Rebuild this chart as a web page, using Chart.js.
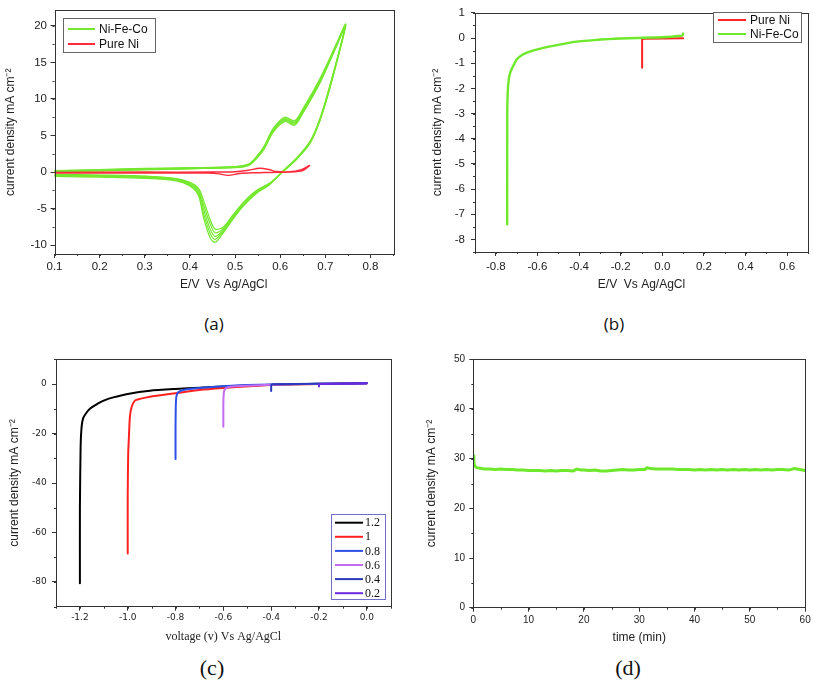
<!DOCTYPE html>
<html>
<head>
<meta charset="utf-8">
<script src="https://cdn.jsdelivr.net/npm/chart.js@4.4.1/dist/chart.umd.min.js"></script>
<style>
  body { margin: 0; background: #fff; width: 813px; height: 683px; position: relative; overflow: hidden; }
  canvas { position: absolute; }
  .tag { position: absolute; transform: translate(-50%, -50%); line-height: 1; color: #111; white-space: nowrap; }
</style>
</head>
<body>
<canvas id="chartA" width="406" height="300" style="left:0;top:0"></canvas>
<canvas id="chartB" width="407" height="300" style="left:406px;top:0"></canvas>
<canvas id="chartC" width="406" height="310" style="left:0;top:340px"></canvas>
<canvas id="chartD" width="407" height="310" style="left:406px;top:340px"></canvas>
<div class="tag" style="left:214px;top:323px;font:17px 'Open Sans'">(a)</div>
<div class="tag" style="left:614px;top:323px;font:17px 'Open Sans'">(b)</div>
<div class="tag" style="left:212px;top:668px;font:22px 'Liberation Serif'">(c)</div>
<div class="tag" style="left:628px;top:668px;font:22px 'Liberation Serif'">(d)</div>
<script>
// (a) cyclic voltammetry, Ni-Fe-Co (5 cycles) and pure Ni
const cvPotential = [0.10, 0.20, 0.30, 0.40, 0.50, 0.53, 0.55, 0.565, 0.585, 0.61, 0.632, 0.65, 0.69, 0.725, 0.745,
  0.71, 0.688, 0.666, 0.636, 0.607, 0.577, 0.548, 0.519, 0.496, 0.474, 0.456, 0.445, 0.43, 0.419, 0.40, 0.37, 0.30, 0.20, 0.10]
const cvCycle1 = [0.2, 0.35, 0.5, 0.6, 0.75, 1.1, 2.3, 3.6, 6.0, 7.5, 7.0, 8.6, 13.0, 17.6, 20.2,
  11.8, 7.3, 4.2, 1.9, 0.2, -1.7, -2.9, -4.6, -6.4, -8.3, -9.6, -9.0, -6.2, -3.2, -1.9, -1.2, -0.85, -0.7, -0.6]
const cvCycle2 = [0.15, 0.3, 0.45, 0.55, 0.7, 1.05, 2.2, 3.5, 5.9, 7.35, 6.85, 8.45, 12.85, 17.5, 20.15,
  11.7, 7.2, 4.1, 1.85, 0.2, -1.65, -2.8, -4.5, -6.25, -8.1, -9.2, -8.4, -5.6, -3.0, -1.8, -1.1, -0.75, -0.6, -0.5]
const cvCycle3 = [0.1, 0.25, 0.4, 0.5, 0.68, 1.0, 2.15, 3.4, 5.8, 7.2, 6.7, 8.3, 12.7, 17.4, 20.1,
  11.6, 7.15, 4.05, 1.8, 0.15, -1.6, -2.7, -4.35, -6.1, -7.9, -8.8, -7.8, -5.0, -2.7, -1.65, -1.0, -0.7, -0.55, -0.45]
const cvCycle4 = [0.05, 0.2, 0.35, 0.48, 0.65, 0.95, 2.05, 3.3, 5.65, 7.05, 6.55, 8.15, 12.55, 17.3, 20.05,
  11.5, 7.05, 3.95, 1.75, 0.1, -1.55, -2.6, -4.2, -5.95, -7.7, -8.3, -7.1, -4.4, -2.45, -1.5, -0.95, -0.6, -0.45, -0.35]
const cvCycle5 = [0.0, 0.15, 0.3, 0.45, 0.6, 0.9, 2.0, 3.2, 5.5, 6.9, 6.4, 8.0, 12.4, 17.2, 20.0,
  11.4, 7.0, 3.9, 1.7, 0.1, -1.5, -2.5, -4.1, -5.8, -7.5, -7.8, -6.5, -3.8, -2.2, -1.4, -0.9, -0.55, -0.4, -0.3]
const cvNiPotential = [0.10, 0.30, 0.45, 0.50, 0.53, 0.555, 0.575, 0.59, 0.62, 0.645, 0.665,
  0.65, 0.62, 0.58, 0.54, 0.51, 0.485, 0.465, 0.44, 0.30, 0.10]
const cvNiCurrent = [-0.05, 0.0, 0.0, 0.05, 0.25, 0.53, 0.35, 0.1, 0.05, 0.3, 0.9,
  0.2, 0.0, -0.05, -0.1, -0.2, -0.45, -0.25, -0.15, -0.15, -0.15]

// (b) linear sweep
const lsvFeCoPotential = [-0.7455, -0.745, -0.743, -0.738, -0.73, -0.72, -0.7, -0.67, -0.63, -0.6, -0.55, -0.5,
  -0.45, -0.4, -0.33, -0.26, -0.2, -0.12, -0.05, 0.02, 0.08, 0.097, 0.1]
const lsvFeCoCurrent = [-7.4, -3.0, -2.2, -1.65, -1.35, -1.17, -0.85, -0.65, -0.52, -0.45, -0.35, -0.27,
  -0.19, -0.13, -0.08, -0.04, -0.02, 0.0, 0.02, 0.04, 0.08, 0.1, 0.18]
const lsvNiPotential = [-0.097, -0.097, -0.09, 0.1]
const lsvNiCurrent = [-1.18, -0.05, -0.03, -0.01]

// (c) sweeps to different limits
const sweepLabels = ['1.2', '1', '0.8', '0.6', '0.4', '0.2']
const sweep12V = [-1.2, -1.2, -1.197, -1.193, -1.186, -1.172, -1.158, -1.135, -1.116, -1.09, -1.06, -1.0, -0.907, -0.8, -0.7, -0.6, -0.5, -0.4, -0.3, -0.2, -0.1, 0.0]
const sweep12J = [-80.5, -50, -25, -17.4, -13.7, -11.5, -10, -8.5, -7.4, -6.3, -5.4, -4.0, -2.7, -2.0, -1.5, -1.0, -0.6, -0.3, -0.1, 0.1, 0.2, 0.3]
const sweep10V = [-1.0, -1.0, -0.998, -0.995, -0.991, -0.984, -0.97, -0.949, -0.907, -0.8, -0.7, -0.6, -0.49, -0.4, -0.3, -0.2, -0.1, 0.0]
const sweep10J = [-68.5, -45, -28, -21.4, -13.4, -9.4, -6.7, -6.0, -5.1, -3.7, -2.4, -1.6, -0.9, -0.4, -0.1, 0.0, 0.1, 0.3]
const sweep08V = [-0.8, -0.8, -0.799, -0.797, -0.793, -0.788, -0.768, -0.7, -0.6, -0.5, -0.4, -0.3, -0.2, -0.1, 0.0]
const sweep08J = [-30.3, -18, -9, -5.4, -4.0, -3.3, -2.4, -1.6, -0.9, -0.4, -0.15, 0.0, 0.1, 0.2, 0.3]
const sweep06V = [-0.6, -0.6, -0.598, -0.595, -0.589, -0.57, -0.5, -0.4, -0.3, -0.2, -0.1, 0.0]
const sweep06J = [-17.3, -8, -3.5, -2.4, -1.6, -1.1, -0.7, -0.3, -0.1, 0.05, 0.15, 0.3]
const sweep04V = [-0.4, -0.4, -0.395, -0.3, -0.2, -0.1, 0.0]
const sweep04J = [-2.8, -0.5, -0.1, 0.0, 0.1, 0.2, 0.3]
const sweep02V = [-0.2, -0.2, -0.195, -0.1, 0.0]
const sweep02J = [-1.0, -0.2, 0.0, 0.1, 0.3]

// (d) chronoamperometry
const timeMin = [0, 0.1, 0.3, 0.6, 1, 1.5, 2, 3, 4, 5,
  6, 7, 8, 9, 10, 11, 12, 13, 14, 15,
  16, 17, 18, 18.7, 19.5, 20, 21, 22, 23, 24,
  25, 26, 27, 28, 29, 30, 31, 31.4, 32, 33,
  34, 35, 36, 37, 38, 39, 40, 41, 42, 43,
  44, 45, 46, 47, 48, 49, 50, 51, 52, 53,
  54, 55, 56, 57, 58, 59, 60]
const stabilityJ = [30.6, 29.2, 28.5, 28.2, 28.1, 28.0, 27.9, 27.9, 27.8, 27.9,
  27.8, 27.8, 27.7, 27.7, 27.6, 27.6, 27.6, 27.5, 27.6, 27.5,
  27.6, 27.6, 27.5, 27.9, 27.7, 27.7, 27.6, 27.7, 27.5, 27.5,
  27.6, 27.7, 27.8, 27.7, 27.7, 27.8, 27.8, 28.2, 28.0, 27.9,
  27.9, 27.9, 27.9, 27.8, 27.8, 27.8, 27.7, 27.8, 27.7, 27.8,
  27.7, 27.8, 27.7, 27.8, 27.7, 27.8, 27.7, 27.8, 27.7, 27.8,
  27.7, 27.8, 27.8, 27.7, 28.0, 27.8, 27.6]

// tick labels
const ticksAx = [0.1, 0.2, 0.3, 0.4, 0.5, 0.6, 0.7, 0.8]
const ticksAy = [-10, -5, 0, 5, 10, 15, 20]
const ticksBx = [-0.8, -0.6, -0.4, -0.2, 0.0, 0.2, 0.4, 0.6]
const ticksBy = [-8, -7, -6, -5, -4, -3, -2, -1, 0, 1]
const ticksCx = [-1.2, -1.0, -0.8, -0.6, -0.4, -0.2, 0.0]
const ticksCy = [-80, -60, -40, -20, 0]
const ticksDx = [0, 10, 20, 30, 40, 50, 60]
const ticksDy = [0, 10, 20, 30, 40, 50]

const yTitle = 'current density mA cm\u207B\u00B2'
const GREEN = '#74e82e'

const pts = (xs, ys) => xs.map((x, i) => ({ x, y: ys[i] }))

// box around the plot area
const frame = {
  id: 'frame',
  afterDraw(chart) {
    const { ctx, chartArea: a } = chart
    ctx.save()
    ctx.strokeStyle = '#333'
    ctx.lineWidth = 1
    ctx.strokeRect(Math.round(a.left) + 0.5, Math.round(a.top) + 0.5, Math.round(a.right - a.left), Math.round(a.bottom - a.top))
    ctx.restore()
  }
}

// short unlabeled ticks between the labeled ones
const minorTicks = {
  id: 'minorTicks',
  afterDraw(chart) {
    const { ctx, chartArea: a } = chart
    ctx.save()
    ctx.strokeStyle = '#333'
    ctx.lineWidth = 1
    ctx.beginPath()
    Object.values(chart.scales).forEach(s => {
      const step = s.options.minorStep
      if (!step) return
      const len = s.options.minorLen || 2
      const n0 = Math.ceil(s.min / step - 1e-6), n1 = Math.floor(s.max / step + 1e-6)
      for (let n = n0; n <= n1; n++) {
        const p = Math.round(s.getPixelForValue(n * step)) + 0.5
        if (s.isHorizontal()) { ctx.moveTo(p, a.bottom); ctx.lineTo(p, a.bottom + len) }
        else { ctx.moveTo(a.left - len, p); ctx.lineTo(a.left, p) }
      }
    })
    ctx.stroke()
    ctx.restore()
  }
}

// framed legend placed inside the plot
const boxLegend = {
  id: 'boxLegend',
  afterDraw(chart, args, o) {
    if (!o.items || !o.items.length) return
    const ctx = chart.ctx
    ctx.save()
    ctx.fillStyle = '#fff'
    ctx.fillRect(o.x, o.y, o.w, o.h)
    ctx.strokeStyle = o.border
    ctx.lineWidth = 1
    ctx.strokeRect(o.x + 0.5, o.y + 0.5, o.w, o.h)
    ctx.font = o.font
    ctx.textBaseline = 'middle'
    o.items.forEach((idx, i) => {
      const ds = chart.data.datasets[idx]
      const y = o.y + o.first + i * o.row
      ctx.strokeStyle = ds.borderColor
      ctx.lineWidth = o.lw
      ctx.beginPath(); ctx.moveTo(o.x1, y); ctx.lineTo(o.x2, y); ctx.stroke()
      ctx.fillStyle = '#111'
      ctx.fillText(ds.label, o.tx, y + 0.5)
    })
    ctx.restore()
  }
}

function axis(o) {
  return {
    type: 'linear',
    min: o.min,
    max: o.max,
    afterBuildTicks: s => { s.ticks = o.ticks.map(v => ({ value: v })) },
    afterFit: s => { if (o.horizontal) s.height = o.size; else s.width = o.size },
    ticks: { autoSkip: false, maxRotation: 0, font: o.font, color: '#222', padding: o.pad, callback: o.fmt || (v => String(v)) },
    grid: { drawOnChartArea: false, drawTicks: true, tickLength: o.tickLen || 4, tickColor: '#333', lineWidth: 1 },
    border: { display: false },
    title: { display: true, text: o.title, font: o.titleFont, color: '#222', padding: o.titlePad },
    minorStep: o.minor,
    minorLen: o.minorLen || 2
  }
}

const line = (label, color, width, data, tension) => ({
  label, data, borderColor: color, backgroundColor: color, borderWidth: width,
  showLine: true, pointRadius: 0, tension: tension || 0, fill: false,
  borderJoinStyle: 'round', borderCapStyle: 'round'
})

const sans = (size) => ({ family: "'Liberation Sans', Arial, sans-serif", size })
const serif = (size) => ({ family: "'Liberation Serif', 'Times New Roman', serif", size })

function draw(id, datasets, scales, padding, legend) {
  return new Chart(document.getElementById(id), {
    type: 'scatter',
    data: { datasets },
    options: {
      responsive: false,
      animation: false,
      layout: { padding },
      plugins: { legend: { display: false }, tooltip: { enabled: false }, boxLegend: legend },
      scales
    },
    plugins: [frame, minorTicks, boxLegend]
  })
}

// (a)
draw('chartA', [
  line('Pure Ni', '#ff2a3a', 1.4, pts(cvNiPotential, cvNiCurrent), 0.3),
  line('Ni-Fe-Co', GREEN, 1.2, pts(cvPotential, cvCycle1), 0.3),
  line('Ni-Fe-Co', GREEN, 1.2, pts(cvPotential, cvCycle2), 0.3),
  line('Ni-Fe-Co', GREEN, 1.2, pts(cvPotential, cvCycle3), 0.3),
  line('Ni-Fe-Co', GREEN, 1.2, pts(cvPotential, cvCycle4), 0.3),
  line('Ni-Fe-Co', GREEN, 1.2, pts(cvPotential, cvCycle5), 0.3)
], {
  x: axis({ horizontal: true, min: 0.1, max: 0.85, ticks: ticksAx, minor: 0.05, size: 46, font: sans(11.5), pad: 2,
    fmt: v => v.toFixed(1), title: 'E/V  Vs Ag/AgCl', titleFont: sans(12), titlePad: { top: 0, bottom: 7.8 } }),
  y: axis({ min: -11.2, max: 22.1, ticks: ticksAy, minor: 2.5, size: 54.5, font: sans(11.5), pad: 3.5,
    title: yTitle, titleFont: sans(12), titlePad: { top: 3.8, bottom: 0 } })
}, { left: 0, top: 4, right: 13, bottom: 0 },
{ items: [1, 0], x: 63, y: 18, w: 92, h: 34, first: 11, row: 15, x1: 68, x2: 95, tx: 99, lw: 2, font: "12px 'Liberation Sans'", border: '#666' })

// (b)
draw('chartB', [
  line('Ni-Fe-Co', '#6ee82a', 2.4, pts(lsvFeCoPotential, lsvFeCoCurrent), 0.2),
  line('Pure Ni', '#ff2424', 2, pts(lsvNiPotential, lsvNiCurrent), 0)
], {
  x: axis({ horizontal: true, min: -0.9, max: 0.7, ticks: ticksBx, minor: 0.1, size: 48, font: sans(11.5), pad: 3.8,
    fmt: v => v.toFixed(1), title: 'E/V  Vs Ag/AgCl', titleFont: sans(12), titlePad: { top: 0, bottom: 7.8 } }),
  y: axis({ min: -8.5, max: 1, ticks: ticksBy, minor: 0.5, size: 69, font: sans(11.5), pad: 6,
    title: yTitle, titleFont: sans(12), titlePad: { top: 24.8, bottom: 0 } })
}, { left: 0, top: 6, right: 5, bottom: 0 },
{ items: [1, 0], x: 307, y: 12, w: 88, h: 30, first: 8, row: 14, x1: 312, x2: 340, tx: 344, lw: 2, font: "12px 'Liberation Sans'", border: '#666' })

// (c)
draw('chartC', [
  line(sweepLabels[5], '#6a2ae0', 2, pts(sweep02V, sweep02J), 0),
  line(sweepLabels[4], '#2a3ab8', 2, pts(sweep04V, sweep04J), 0),
  line(sweepLabels[3], '#c46cf0', 2, pts(sweep06V, sweep06J), 0.2),
  line(sweepLabels[2], '#2b50e8', 2, pts(sweep08V, sweep08J), 0.2),
  line(sweepLabels[1], '#ff2020', 2, pts(sweep10V, sweep10J), 0.2),
  line(sweepLabels[0], '#000000', 2, pts(sweep12V, sweep12J), 0.2)
], {
  x: axis({ horizontal: true, min: -1.3, max: 0.1, ticks: ticksCx, minor: 0.1, size: 43.3, font: { family: "'DejaVu Sans'", size: 9 }, pad: 1.9,
    fmt: v => v.toFixed(1), title: 'voltage (v) Vs Ag/AgCl', titleFont: serif(12), titlePad: { top: 0, bottom: 6.1 } }),
  y: axis({ min: -90, max: 10, ticks: ticksCy, minor: 10, size: 56, font: { family: "'DejaVu Sans'", size: 9 }, pad: 5.3,
    title: yTitle, titleFont: sans(12), titlePad: { top: 7.8, bottom: 0 } })
}, { left: 0, top: 19.3, right: 15.3, bottom: 0 },
{ items: [5, 4, 3, 2, 1, 0], x: 331, y: 174, w: 54, h: 85, first: 8.7, row: 14.1, x1: 335, x2: 363, tx: 365, lw: 2, font: "12px 'Liberation Serif'", border: '#7070c8' })

// (d)
draw('chartD', [
  line('Ni-Fe-Co', '#6ee82a', 3, pts(timeMin, stabilityJ), 0)
], {
  x: axis({ horizontal: true, min: 0, max: 60, ticks: ticksDx, minor: 5, size: 42.3, font: sans(10), pad: 2.3,
    title: 'time (min)', titleFont: sans(12), titlePad: { top: 0, bottom: 4.8 } }),
  y: axis({ min: 0, max: 50, ticks: ticksDy, minor: 5, size: 67.3, font: sans(10), pad: 4.3,
    title: yTitle, titleFont: sans(12), titlePad: { top: 18.5, bottom: 0 } })
}, { left: 0, top: 19.3, right: 7, bottom: 0 },
{ items: [] })
</script>
</body>
</html>
